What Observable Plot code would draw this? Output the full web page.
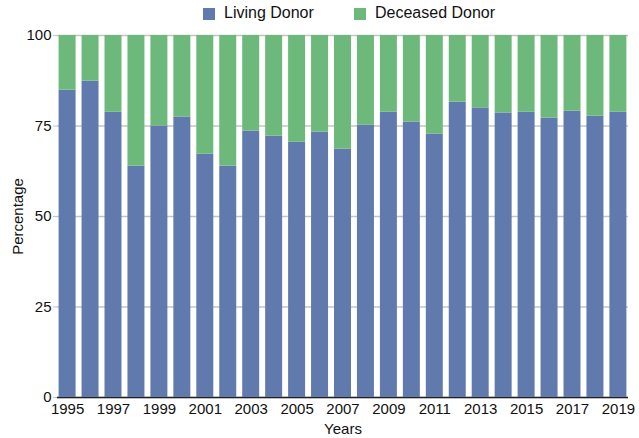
<!DOCTYPE html>
<html>
<head>
<meta charset="utf-8">
<script src="https://cdn.jsdelivr.net/npm/d3@7"></script>
<script src="https://cdn.jsdelivr.net/npm/@observablehq/plot@0.6"></script>
<style>
  html, body { margin: 0; padding: 0; background: #fff; }
  body { width: 639px; height: 438px; overflow: hidden; font-family: "Liberation Sans", Arial, sans-serif; }
  #legend { position: relative; height: 26px; }
  .item { position: absolute; top: 0; height: 26px; display: flex; align-items: center; font-size: 16px; color: #111; }
  .sw { width: 12px; height: 12px; margin-right: 9px; margin-top: 1px; }
</style>
</head>
<body>
<div id="legend"></div>
<div id="chart"></div>
<script>
const years = [1995,1996,1997,1998,1999,2000,2001,2002,2003,2004,2005,2006,2007,2008,2009,2010,2011,2012,2013,2014,2015,2016,2017,2018,2019];
const living = [84.9,87.4,78.8,63.9,75.0,77.5,67.2,63.9,73.6,72.2,70.5,73.3,68.6,75.2,78.8,76.1,72.8,81.6,80.0,78.6,78.8,77.2,79.1,77.7,78.8];
const deceased = [15.1,12.6,21.2,36.1,25.0,22.5,32.8,36.1,26.4,27.8,29.5,26.7,31.4,24.8,21.2,23.9,27.2,18.4,20.0,21.4,21.2,22.8,20.9,22.3,21.2];
const series = ["Living Donor", "Deceased Donor"];
const colors = ["#617aad", "#6cb97b"];
const yTicks = [0, 25, 50, 75, 100];
const xTickLabels = ["1995","1997","1999","2001","2003","2005","2007","2009","2011","2013","2015","2017","2019"];

const data = years.flatMap((y, i) => [
  {year: String(y), donor: series[0], value: living[i]},
  {year: String(y), donor: series[1], value: deceased[i]}
]);

// legend
const legend = document.getElementById("legend");
const legendX = [203, 354];
series.forEach((s, i) => {
  const it = document.createElement("div");
  it.className = "item";
  it.style.left = legendX[i] + "px";
  const sw = document.createElement("div");
  sw.className = "sw";
  sw.style.background = colors[i];
  const t = document.createElement("span");
  t.textContent = s;
  it.appendChild(sw); it.appendChild(t);
  legend.appendChild(it);
});

const chart = Plot.plot({
  width: 639,
  height: 412,
  marginTop: 9,
  marginBottom: 41,
  marginLeft: 57,
  marginRight: 11,
  style: {fontFamily: "'Liberation Sans', Arial, sans-serif", fontSize: "15px", color: "#111", background: "#fff"},
  x: {type: "band", domain: years.map(String), paddingInner: 0.26, paddingOuter: 0.07, round: false, label: null},
  y: {domain: [0, 100], label: null},
  color: {domain: series, range: colors},
  marks: [
    Plot.gridY(yTicks, {stroke: "#c4c4c4", strokeOpacity: 1, strokeWidth: 1.5}),
    Plot.ruleY([0], {stroke: "#222", strokeWidth: 1.5}),
    Plot.barY(data, {x: "year", y: "value", fill: "donor"}),
    Plot.axisY(yTicks, {tickSize: 4, stroke: "#c4c4c4", tickPadding: 2, fontSize: 15, label: "Percentage", labelAnchor: "center", labelOffset: 45, labelArrow: "none"}),
    Plot.axisX(xTickLabels, {tickSize: 0, tickPadding: 6, fontSize: 15, label: "Years", labelAnchor: "center", labelOffset: 36, labelArrow: "none"})
  ]
});
document.getElementById("chart").appendChild(chart);
</script>
</body>
</html>
